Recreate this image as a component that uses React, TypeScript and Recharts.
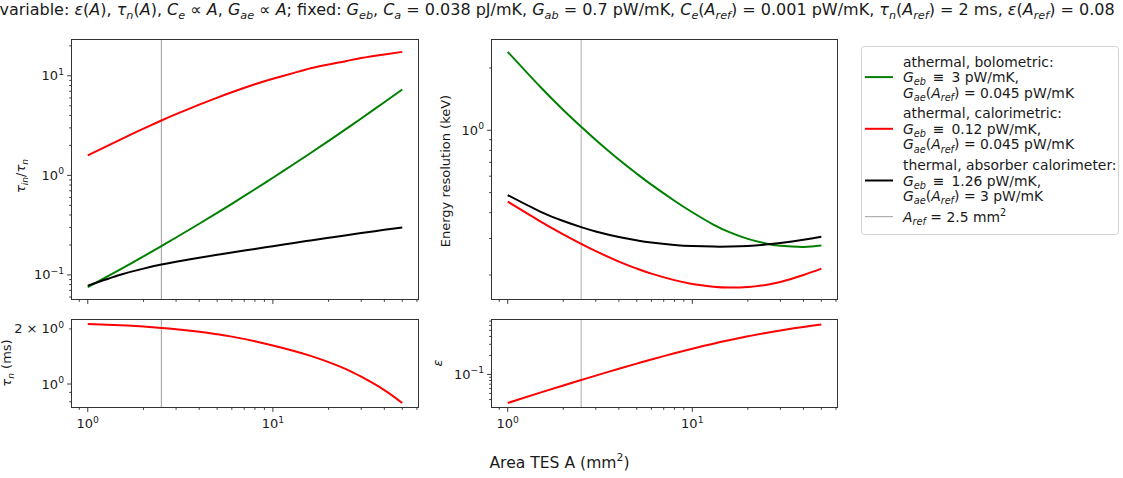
import React from 'react';
import { LineChart, Line, XAxis, YAxis, ReferenceLine } from 'recharts';

// ---------- data ----------
const areas = [1, 1.5, 2, 2.5, 3, 4, 5, 6, 8, 10, 13, 16, 20, 25, 30, 40, 50];

const tauRatioBolometric = [0.0752, 0.1135, 0.1535, 0.195, 0.2377, 0.3266, 0.4207, 0.518, 0.7253, 0.946, 1.3, 1.679, 2.22, 2.95, 3.73, 5.43, 7.29];
const tauRatioCalorimetric = [1.585, 2.29, 2.95, 3.56, 4.12, 5.13, 6.03, 6.84, 8.22, 9.33, 10.7, 11.9, 13.0, 14.1, 15.1, 16.4, 17.4];
const tauRatioThermal = [0.078, 0.1003, 0.1157, 0.1271, 0.1357, 0.1486, 0.1591, 0.1679, 0.1823, 0.1944, 0.2096, 0.222, 0.2361, 0.2508, 0.2631, 0.2836, 0.3002];

const resBolometric = [2.393, 1.622, 1.254, 1.039, 0.898, 0.722, 0.617, 0.546, 0.4566, 0.4018, 0.3504, 0.3211, 0.2988, 0.2839, 0.2767, 0.2732, 0.2773];
const resCalorimetric = [0.4519, 0.3631, 0.314, 0.2825, 0.2607, 0.2322, 0.2148, 0.203, 0.1888, 0.1811, 0.1756, 0.1739, 0.175, 0.1791, 0.1849, 0.1998, 0.2145];
const resThermal = [0.4864, 0.4049, 0.3643, 0.3404, 0.3245, 0.305, 0.294, 0.2871, 0.2795, 0.276, 0.2742, 0.2744, 0.2763, 0.2804, 0.2853, 0.2958, 0.3062];

const tauN = [2.13, 2.094, 2.059, 2.025, 1.992, 1.929, 1.87, 1.815, 1.714, 1.625, 1.516, 1.425, 1.317, 1.202, 1.096, 0.927, 0.787];
const epsilonVals = [0.0352, 0.0514, 0.0668, 0.0816, 0.0958, 0.1229, 0.1484, 0.1722, 0.2163, 0.2557, 0.3074, 0.3516, 0.402, 0.4546, 0.4979, 0.567, 0.6198];

const aRef = 2.5;

const xTicks = [0.9, 1, 2, 3, 4, 5, 6, 7, 8, 9, 10, 20, 30, 40, 50, 60];
const yTicksTauRatio = [0.06, 0.07, 0.08, 0.09, 0.1, 0.2, 0.3, 0.4, 0.5, 0.6, 0.7, 0.8, 0.9, 1, 2, 3, 4, 5, 6, 7, 8, 9, 10, 20];
const yTicksRes = [0.2, 0.3, 0.4, 0.5, 0.6, 0.7, 0.8, 0.9, 1, 2];
const yTicksTauN = [0.8, 0.9, 1, 2];
const yTicksEps = [0.04, 0.05, 0.06, 0.07, 0.08, 0.09, 0.1, 0.2, 0.3, 0.4, 0.5, 0.6, 0.7];

const xDomain = [0.822, 60.8];
const tauRatioDomain = [0.0573, 22.9];
const resDomain = [0.1531, 2.729];
const tauNDomain = [0.7489, 2.237];
const epsDomain = [0.03043, 0.7291];

const EQV = '\u2002≡\u2002';
const titleText = 'variable: *ε*(*A*), *τ*_{n}(*A*), *C*_{e} ∝ *A*, *G*_{ae} ∝ *A*; fixed: *G*_{eb}, *C*_{a} = 0.038 pJ/mK, *G*_{ab} = 0.7 pW/mK, *C*_{e}(*A*_{ref}) = 0.001 pW/mK, *τ*_{n}(*A*_{ref}) = 2 ms, *ε*(*A*_{ref}) = 0.08';

const legendGroups = [
  { color: '#008000', lines: ['athermal, bolometric:', '*G*_{eb}' + EQV + '3 pW/mK,', '*G*_{ae}(*A*_{ref}) = 0.045 pW/mK'] },
  { color: '#ff0000', lines: ['athermal, calorimetric:', '*G*_{eb}' + EQV + '0.12 pW/mK,', '*G*_{ae}(*A*_{ref}) = 0.045 pW/mK'] },
  { color: '#000000', lines: ['thermal, absorber calorimeter:', '*G*_{eb}' + EQV + '1.26 pW/mK,', '*G*_{ae}(*A*_{ref}) = 3 pW/mK'] },
  { color: '#b0b0b0', lines: ['*A*_{ref} = 2.5 mm^{2}'] },
];

const topData = areas.map((A, i) => ({
  A,
  bolo: tauRatioBolometric[i],
  calo: tauRatioCalorimetric[i],
  therm: tauRatioThermal[i],
}));
const resData = areas.map((A, i) => ({
  A,
  bolo: resBolometric[i],
  calo: resCalorimetric[i],
  therm: resThermal[i],
}));
const tauNData = areas.map((A, i) => ({ A, v: tauN[i] }));
const epsData = areas.map((A, i) => ({ A, v: epsilonVals[i] }));

// ---------- helpers ----------
const FONT = "'DejaVu Sans', 'Liberation Sans', sans-serif";
const TICK_COLOR = '#262626';

type Seg = { t: string; i?: boolean; s?: 'sub' | 'sup' };

function parse(s: string): Seg[] {
  const segs: Seg[] = [];
  let i = 0;
  let buf = '';
  const flush = () => {
    if (buf) {
      segs.push({ t: buf });
      buf = '';
    }
  };
  while (i < s.length) {
    const c = s[i];
    if (c === '*') {
      flush();
      const j = s.indexOf('*', i + 1);
      segs.push({ t: s.slice(i + 1, j), i: true });
      i = j + 1;
    } else if ((c === '_' || c === '^') && s[i + 1] === '{') {
      flush();
      const j = s.indexOf('}', i + 2);
      segs.push({ t: s.slice(i + 2, j), i: c === '_', s: c === '_' ? 'sub' : 'sup' });
      i = j + 1;
    } else {
      buf += c;
      i++;
    }
  }
  flush();
  return segs;
}

function MText(props: { x: number; y: number; text: string; fs: number; anchor?: string; rotate?: boolean; fill?: string }) {
  const { x, y, text, fs, anchor = 'start', rotate = false, fill = '#1a1a1a' } = props;
  const segs = parse(text);
  let cur = 0;
  const spans = segs.map((sg, k) => {
    const target = sg.s === 'sub' ? fs * 0.24 : sg.s === 'sup' ? -fs * 0.4 : 0;
    const dy = target - cur;
    cur = target;
    return (
      <tspan key={k} dy={dy} fontSize={sg.s ? fs * 0.7 : fs} fontStyle={sg.i ? 'italic' : 'normal'}>
        {sg.t}
      </tspan>
    );
  });
  return (
    <text
      x={x}
      y={y}
      textAnchor={anchor as any}
      fontFamily={FONT}
      fontSize={fs}
      fill={fill}
      style={{ whiteSpace: 'pre' }}
      transform={rotate ? `rotate(-90 ${x} ${y})` : undefined}
    >
      {spans}
    </text>
  );
}

function isMajor(v: number) {
  const l = Math.log10(v);
  return Math.abs(l - Math.round(l)) < 1e-9;
}
function expStr(v: number) {
  const e = Math.round(Math.log10(v));
  return e < 0 ? '\u2212' + -e : String(e);
}

const makeXTick = (showLabel: boolean) => (props: any) => {
  const { x, y, payload } = props;
  const v = payload.value;
  const major = isMajor(v);
  const len = major ? 4.9 : 2.8;
  return (
    <g>
      <line x1={x} x2={x} y1={y} y2={y + len} stroke={TICK_COLOR} strokeWidth={0.9} />
      {showLabel && major ? (
        <text x={x} y={y + 21} textAnchor="middle" fontFamily={FONT} fontSize={13} fill="#1a1a1a">
          10
          <tspan dy={-5.5} fontSize={9.2}>
            {expStr(v)}
          </tspan>
        </text>
      ) : null}
    </g>
  );
};

const makeYTick = (labeled: number[], pre: Record<string, string> = {}) => (props: any) => {
  const { x, y, payload } = props;
  const v = payload.value;
  const major = isMajor(v);
  const len = major ? 4.9 : 2.8;
  const show = labeled.some((l) => Math.abs(l - v) < 1e-9);
  return (
    <g>
      <line x1={x - len} x2={x} y1={y} y2={y} stroke={TICK_COLOR} strokeWidth={0.9} />
      {show ? (
        <text x={x - 8} y={y + 4.5} textAnchor="end" fontFamily={FONT} fontSize={13} fill="#1a1a1a" style={{ whiteSpace: 'pre' }}>
          {(pre[String(v)] || '') + '10'}
          <tspan dy={-5.5} fontSize={9.2}>
            {expStr(isMajor(v) ? v : Math.pow(10, Math.floor(Math.log10(v))))}
          </tspan>
        </text>
      ) : null}
    </g>
  );
};

const GREY = '#aaaaaa';

function Frame({ x1, y1, x2, y2 }: { x1: number; y1: number; x2: number; y2: number }) {
  return <rect x={x1 - 0.5} y={y1 - 0.5} width={x2 - x1 + 1} height={y2 - y1 + 1} fill="none" stroke="#333" strokeWidth={1} />;
}

export default function App() {
  const lineCommon = { dot: false, isAnimationActive: false, type: 'natural' as const, strokeWidth: 2 };
  return (
    <div style={{ position: 'absolute', left: 0, top: 0, width: 1123, height: 478, background: '#fff', overflow: 'hidden' }}>
      {/* top-left */}
      <div style={{ position: 'absolute', left: 0, top: 0 }}>
        <LineChart width={430} height={320} data={topData} margin={{ top: 40, right: 12, bottom: 0, left: 0 }}>
          <XAxis dataKey="A" type="number" scale="log" domain={xDomain} allowDataOverflow ticks={xTicks} interval={0} height={21} tickSize={0} tickMargin={0} axisLine={false} tickLine={false} tick={makeXTick(false)} />
          <YAxis type="number" scale="log" domain={tauRatioDomain} allowDataOverflow ticks={yTicksTauRatio} interval={0} width={72} tickSize={0} tickMargin={0} axisLine={false} tickLine={false} tick={makeYTick([0.1, 1, 10])} />
          <ReferenceLine x={aRef} stroke={GREY} strokeWidth={1.2} />
          <Line dataKey="bolo" stroke="#008000" {...lineCommon} />
          <Line dataKey="calo" stroke="#ff0000" {...lineCommon} />
          <Line dataKey="therm" stroke="#000000" {...lineCommon} />
        </LineChart>
      </div>
      {/* bottom-left */}
      <div style={{ position: 'absolute', left: 0, top: 300 }}>
        <LineChart width={430} height={178} data={tauNData} margin={{ top: 20, right: 12, bottom: 0, left: 0 }}>
          <XAxis dataKey="A" type="number" scale="log" domain={xDomain} allowDataOverflow ticks={xTicks} interval={0} height={71} tickSize={0} tickMargin={0} axisLine={false} tickLine={false} tick={makeXTick(true)} />
          <YAxis type="number" scale="log" domain={tauNDomain} allowDataOverflow ticks={yTicksTauN} interval={0} width={72} tickSize={0} tickMargin={0} axisLine={false} tickLine={false} tick={makeYTick([1, 2], { '2': '2 × ' })} />
          <ReferenceLine x={aRef} stroke={GREY} strokeWidth={1.2} />
          <Line dataKey="v" stroke="#ff0000" {...lineCommon} />
        </LineChart>
      </div>
      {/* top-right */}
      <div style={{ position: 'absolute', left: 420, top: 0 }}>
        <LineChart width={430} height={320} data={resData} margin={{ top: 40, right: 13, bottom: 0, left: 0 }}>
          <XAxis dataKey="A" type="number" scale="log" domain={xDomain} allowDataOverflow ticks={xTicks} interval={0} height={21} tickSize={0} tickMargin={0} axisLine={false} tickLine={false} tick={makeXTick(false)} />
          <YAxis type="number" scale="log" domain={resDomain} allowDataOverflow ticks={yTicksRes} interval={0} width={72} tickSize={0} tickMargin={0} axisLine={false} tickLine={false} tick={makeYTick([1])} />
          <ReferenceLine x={aRef} stroke={GREY} strokeWidth={1} />
          <Line dataKey="bolo" stroke="#008000" {...lineCommon} />
          <Line dataKey="calo" stroke="#ff0000" {...lineCommon} />
          <Line dataKey="therm" stroke="#000000" {...lineCommon} />
        </LineChart>
      </div>
      {/* bottom-right */}
      <div style={{ position: 'absolute', left: 420, top: 300 }}>
        <LineChart width={430} height={178} data={epsData} margin={{ top: 20, right: 13, bottom: 0, left: 0 }}>
          <XAxis dataKey="A" type="number" scale="log" domain={xDomain} allowDataOverflow ticks={xTicks} interval={0} height={71} tickSize={0} tickMargin={0} axisLine={false} tickLine={false} tick={makeXTick(true)} />
          <YAxis type="number" scale="log" domain={epsDomain} allowDataOverflow ticks={yTicksEps} interval={0} width={72} tickSize={0} tickMargin={0} axisLine={false} tickLine={false} tick={makeYTick([0.1])} />
          <ReferenceLine x={aRef} stroke={GREY} strokeWidth={1} />
          <Line dataKey="v" stroke="#ff0000" {...lineCommon} />
        </LineChart>
      </div>

      {/* overlay: frames, labels, title, legend */}
      <svg width={1123} height={478} style={{ position: 'absolute', left: 0, top: 0, pointerEvents: 'none' }}>
        <Frame x1={72} y1={40} x2={418} y2={299} />
        <Frame x1={72} y1={320} x2={418} y2={407} />
        <Frame x1={492} y1={40} x2={837} y2={299} />
        <Frame x1={492} y1={320} x2={837} y2={407} />

        <MText x={557} y={15} text={titleText} fs={16} anchor="middle" />
        <MText x={24.5} y={176} text="*τ*_{in}/*τ*_{n}" fs={13} anchor="middle" rotate />
        <MText x={10.5} y={363} text="*τ*_{n} (ms)" fs={13} anchor="middle" rotate />
        <MText x={449.5} y={171} text="Energy resolution (keV)" fs={13} anchor="middle" rotate />
        <MText x={442} y={363} text="*ε*" fs={13} anchor="middle" rotate />
        <MText x={559.5} y={467.5} text="Area TES A (mm^{2})" fs={15.6} anchor="middle" />

        <rect x={861.5} y={46.5} width={257} height={188} rx={3} fill="#fff" fillOpacity={0.8} stroke="#d4d4d4" strokeWidth={1} />
        {(() => {
          const out: React.ReactNode[] = [];
          let base = 66.5;
          legendGroups.forEach((g, gi) => {
            const mid = base + ((g.lines.length - 1) / 2) * 15.6;
            out.push(<line key={'h' + gi} x1={865} x2={893} y1={mid - 5} y2={mid - 5} stroke={g.color} strokeWidth={gi === 3 ? 1.2 : 2} />);
            g.lines.forEach((ln, li) => {
              out.push(<MText key={'t' + gi + '-' + li} x={903} y={base + li * 15.6} text={ln} fs={13.9} />);
            });
            base += g.lines.length * 15.6 + 4.9;
          });
          return out;
        })()}
      </svg>
    </div>
  );
}
